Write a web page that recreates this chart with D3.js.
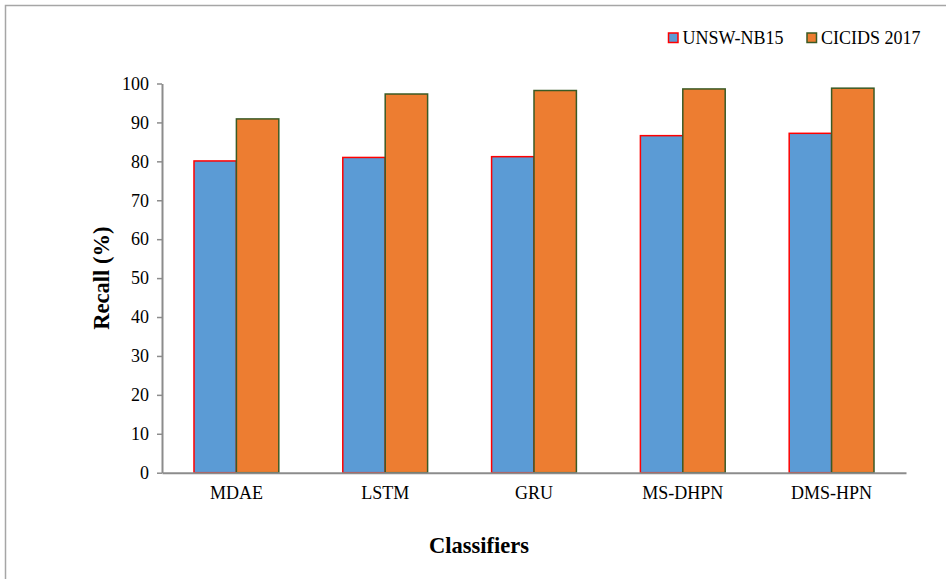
<!DOCTYPE html>
<html>
<head>
<meta charset="utf-8">
<script src="https://cdn.jsdelivr.net/npm/d3@7"></script>
<style>
  html, body { margin: 0; padding: 0; background: #fff; }
  svg { display: block; font-family: "Liberation Serif", "Times New Roman", serif; }
</style>
</head>
<body>
<svg id="chart" width="946" height="579"></svg>
<script>
// Recall of each classifier on the two intrusion-detection datasets
const classifiers = ["MDAE", "LSTM", "GRU", "MS-DHPN", "DMS-HPN"];
const seriesNames = ["UNSW-NB15", "CICIDS 2017"];
const unswRecall = [80.1, 81.0, 81.2, 86.6, 87.2];
const cicidsRecall = [90.9, 97.3, 98.2, 98.6, 98.8];
const yTicks = [0, 10, 20, 30, 40, 50, 60, 70, 80, 90, 100];

const seriesValues = [unswRecall, cicidsRecall];
const fills = ["#5B9BD5", "#ED7D31"];
const strokes = ["#FF0000", "#3A5A25"];
const serif = "Liberation Serif, Times New Roman, serif";

const svg = d3.select("#chart");

// outer frame
svg.append("rect")
  .attr("x", 5.5).attr("y", 5.5)
  .attr("width", 960).attr("height", 600)
  .attr("fill", "none").attr("stroke", "#A6A6A6").attr("stroke-width", 1.5);

const plot = { left: 162, right: 906, top: 83.5, bottom: 472.7 };

const x = d3.scaleBand()
  .domain(classifiers)
  .range([plot.left, plot.right])
  .paddingInner(0.43)
  .paddingOuter(0.215);

const xs = d3.scaleBand()
  .domain(seriesNames)
  .range([0, x.bandwidth()]);

const y = d3.scaleLinear()
  .domain([0, 100])
  .range([plot.bottom, plot.top]);

// bars
const rows = classifiers.map((c, i) => ({
  c, vals: seriesNames.map((s, k) => ({ s, k, v: seriesValues[k][i] }))
}));

const groups = svg.append("g").selectAll("g")
  .data(rows).join("g")
  .attr("transform", d => `translate(${x(d.c)},0)`);

groups.selectAll("rect")
  .data(d => d.vals).join("rect")
  .attr("x", d => xs(d.s))
  .attr("y", d => y(d.v))
  .attr("width", xs.bandwidth())
  .attr("height", d => y(0) - y(d.v))
  .attr("fill", d => fills[d.k])
  .attr("stroke", d => strokes[d.k])
  .attr("stroke-width", 1.5);

// y axis
const yAxis = svg.append("g")
  .attr("transform", `translate(${plot.left},0)`)
  .call(d3.axisLeft(y).tickValues(yTicks).tickSize(5).tickPadding(8).tickSizeOuter(0));
yAxis.attr("font-family", serif).attr("font-size", 18);
yAxis.select(".domain").attr("stroke", "#8C8C8C").attr("stroke-width", 2);
yAxis.selectAll(".tick line").attr("stroke", "#8C8C8C").attr("stroke-width", 1.5);
yAxis.selectAll(".tick text").attr("fill", "#000");

// x axis
const xAxis = svg.append("g")
  .attr("transform", `translate(0,${plot.bottom})`)
  .call(d3.axisBottom(x).tickSize(0).tickPadding(14).tickSizeOuter(0));
xAxis.attr("font-family", serif).attr("font-size", 18);
xAxis.select(".domain").attr("stroke", "#8C8C8C").attr("stroke-width", 2);
xAxis.selectAll(".tick text").attr("fill", "#000");

// axis titles
svg.append("text")
  .attr("transform", `translate(109,${(plot.top + plot.bottom) / 2}) rotate(-90)`)
  .attr("text-anchor", "middle")
  .attr("font-family", serif)
  .attr("font-size", 22.5).attr("font-weight", "bold")
  .text("Recall (%)");

svg.append("text")
  .attr("x", 479).attr("y", 553)
  .attr("text-anchor", "middle")
  .attr("font-family", serif)
  .attr("font-size", 22.5).attr("font-weight", "bold")
  .text("Classifiers");

// legend
const legendX = [668.5, 807];
const legend = svg.append("g").selectAll("g")
  .data(seriesNames).join("g")
  .attr("transform", (d, i) => `translate(${legendX[i]},33)`);
legend.append("rect")
  .attr("width", 9.5).attr("height", 9.5)
  .attr("fill", (d, i) => fills[i])
  .attr("stroke", (d, i) => strokes[i]).attr("stroke-width", 1.5);
legend.append("text")
  .attr("x", 14).attr("y", 11)
  .attr("font-family", serif)
  .attr("font-size", 18).attr("fill", "#000")
  .text(d => d);
</script>
</body>
</html>
